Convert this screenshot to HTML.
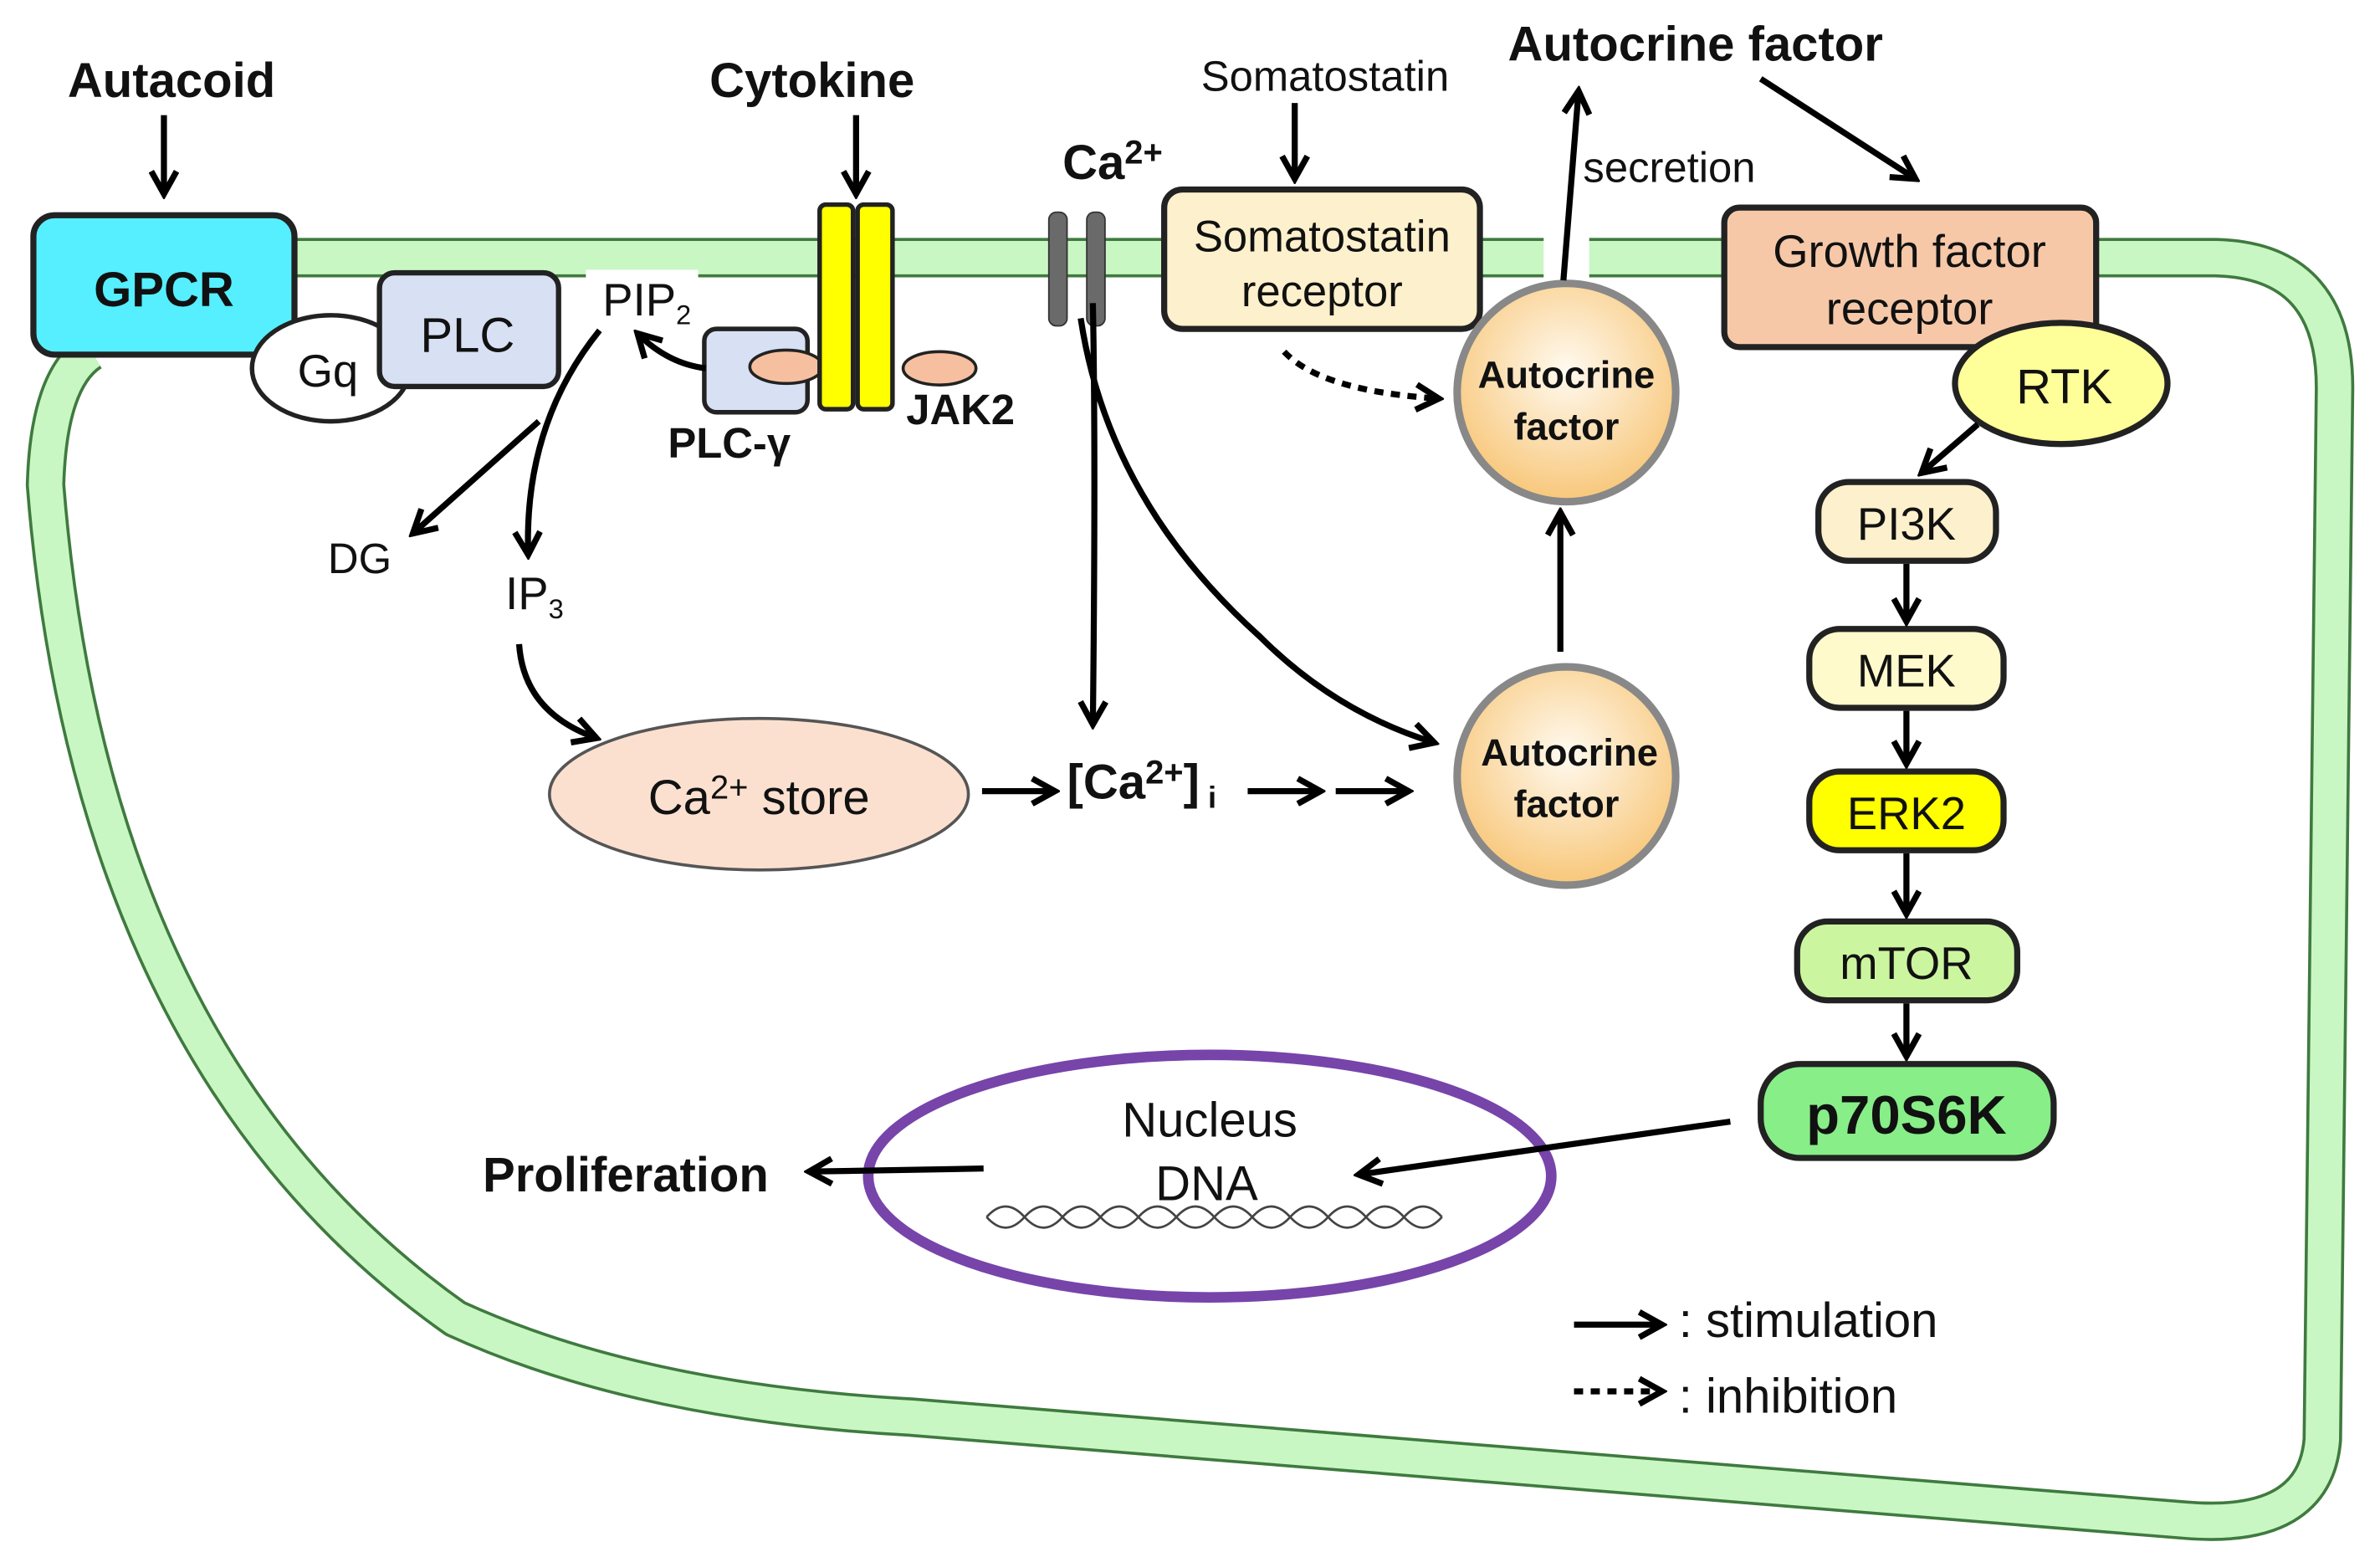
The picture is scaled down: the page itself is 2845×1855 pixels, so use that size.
<!DOCTYPE html>
<html><head><meta charset="utf-8"><style>
html,body{margin:0;padding:0;background:#fff;}
svg{display:block;}
text{font-family:"Liberation Sans",sans-serif;fill:#111;}
</style></head><body>
<svg width="2845" height="1855" viewBox="0 0 1568 1024" preserveAspectRatio="none" xmlns="http://www.w3.org/2000/svg">
<defs>
<marker id="a" viewBox="0 0 12 12" refX="10" refY="6" markerWidth="5" markerHeight="5" orient="auto" markerUnits="strokeWidth">
<path d="M1,1 L10,6 L1,11" fill="none" stroke="#000" stroke-width="2.4"/></marker>
<radialGradient id="g" cx="50%" cy="40%" r="60%"><stop offset="0" stop-color="#fffaf0"/><stop offset="1" stop-color="#f8c77a"/></radialGradient>
</defs>
<!-- membrane -->
<g fill="none" stroke-linejoin="round">
<path d="M60,232 Q32,250 30,320 Q60,700 300,870 Q420,925 600,935 L1440,1003 Q1525,1010 1530,950 L1538,260 Q1540,172 1460,170 L1380,170 M1140,170 L195,170" stroke="#3f7a3f" stroke-width="26"/>
<path d="M60,232 Q32,250 30,320 Q60,700 300,870 Q420,925 600,935 L1440,1003 Q1525,1010 1530,950 L1538,260 Q1540,172 1460,170 L1380,170 M1140,170 L195,170" stroke="#c9f7c3" stroke-width="22"/>
</g>
<rect x="1017" y="150" width="30" height="40" fill="#fff"/>
<!-- GPCR -->
<rect x="22" y="142" width="172" height="92" rx="14" fill="#55efff" stroke="#222" stroke-width="4"/>
<text x="108" y="202" font-size="32" font-weight="bold" text-anchor="middle">GPCR</text>
<ellipse cx="218" cy="243" rx="52" ry="35" fill="#fff" stroke="#222" stroke-width="3"/>
<text x="216" y="255" font-size="30" text-anchor="middle">Gq</text>
<rect x="250" y="180" width="118" height="75" rx="10" fill="#d8e0f4" stroke="#222" stroke-width="3.5"/>
<text x="308" y="232" font-size="32" text-anchor="middle">PLC</text>
<rect x="386" y="178" width="74" height="40" fill="#fff"/>
<text x="397" y="208" font-size="30">PIP<tspan font-size="18" dy="6">2</tspan></text>
<!-- PLC-gamma, cytokine receptor -->
<rect x="464" y="217" width="68" height="55" rx="8" fill="#d8e0f4" stroke="#222" stroke-width="3"/>
<ellipse cx="518" cy="242" rx="24" ry="11" fill="#f6c0a0" stroke="#222" stroke-width="2"/>
<rect x="540" y="135" width="22" height="135" rx="4" fill="#ffff00" stroke="#222" stroke-width="3"/>
<rect x="565" y="135" width="23" height="135" rx="4" fill="#ffff00" stroke="#222" stroke-width="3"/>
<ellipse cx="619" cy="243" rx="24" ry="11" fill="#f6c0a0" stroke="#222" stroke-width="2"/>
<text x="597" y="280" font-size="28" font-weight="bold">JAK2</text>
<text x="440" y="302" font-size="28" font-weight="bold">PLC-γ</text>
<!-- Ca channel -->
<rect x="691" y="140" width="12" height="75" rx="5" fill="#6a6a6a" stroke="#333" stroke-width="1"/>
<rect x="716" y="140" width="12" height="75" rx="5" fill="#6a6a6a" stroke="#333" stroke-width="1"/>
<text x="700" y="118" font-size="32" font-weight="bold">Ca<tspan font-size="22" dy="-10">2+</tspan></text>
<!-- top labels -->
<text x="113" y="64" font-size="32" font-weight="bold" text-anchor="middle">Autacoid</text>
<text x="535" y="64" font-size="32" font-weight="bold" text-anchor="middle">Cytokine</text>
<text x="873" y="60" font-size="28" text-anchor="middle">Somatostatin</text>
<text x="1117" y="40" font-size="32" font-weight="bold" text-anchor="middle">Autocrine factor</text>
<text x="1043" y="120" font-size="28">secretion</text>
<!-- Somatostatin receptor -->
<rect x="767" y="125" width="208" height="92" rx="12" fill="#fdf0cc" stroke="#222" stroke-width="4"/>
<text x="871" y="166" font-size="29" text-anchor="middle">Somatostatin</text>
<text x="871" y="202" font-size="29" text-anchor="middle">receptor</text>
<!-- autocrine circles -->
<circle cx="1032" cy="259" r="72" fill="url(#g)" stroke="#888" stroke-width="5"/>
<text x="1032" y="256" font-size="25" font-weight="bold" text-anchor="middle">Autocrine</text>
<text x="1032" y="290" font-size="25" font-weight="bold" text-anchor="middle">factor</text>
<circle cx="1032" cy="512" r="72" fill="url(#g)" stroke="#888" stroke-width="5"/>
<text x="1034" y="505" font-size="25" font-weight="bold" text-anchor="middle">Autocrine</text>
<text x="1032" y="539" font-size="25" font-weight="bold" text-anchor="middle">factor</text>
<!-- growth factor receptor -->
<rect x="1136" y="137" width="245" height="92" rx="10" fill="#f6c8a8" stroke="#222" stroke-width="4"/>
<text x="1258" y="176" font-size="30" text-anchor="middle">Growth factor</text>
<text x="1258" y="214" font-size="30" text-anchor="middle">receptor</text>
<ellipse cx="1358" cy="253" rx="70" ry="40" fill="#ffff99" stroke="#222" stroke-width="4"/>
<text x="1360" y="266" font-size="32" text-anchor="middle">RTK</text>
<!-- cascade -->
<rect x="1198" y="318" width="117" height="52" rx="20" fill="#fdf0cc" stroke="#222" stroke-width="4"/>
<text x="1256" y="356" font-size="30" text-anchor="middle">PI3K</text>
<rect x="1192" y="415" width="128" height="52" rx="20" fill="#fffacc" stroke="#222" stroke-width="4"/>
<text x="1256" y="453" font-size="30" text-anchor="middle">MEK</text>
<rect x="1192" y="509" width="128" height="52" rx="20" fill="#ffff00" stroke="#222" stroke-width="4"/>
<text x="1256" y="547" font-size="30" text-anchor="middle">ERK2</text>
<rect x="1184" y="608" width="145" height="52" rx="20" fill="#ccf5a0" stroke="#222" stroke-width="4"/>
<text x="1256" y="646" font-size="30" text-anchor="middle">mTOR</text>
<rect x="1160" y="702" width="193" height="62" rx="26" fill="#88ee88" stroke="#222" stroke-width="4"/>
<text x="1256" y="748" font-size="36" font-weight="bold" text-anchor="middle">p70S6K</text>
<!-- Ca store -->
<ellipse cx="500" cy="524" rx="138" ry="50" fill="#fbe0d0" stroke="#555" stroke-width="2"/>
<text x="500" y="537" font-size="32" text-anchor="middle">Ca<tspan font-size="22" dy="-10">2+</tspan><tspan dy="10"> store</tspan></text>
<text x="703" y="527" font-size="32" font-weight="bold">[Ca<tspan font-size="22" dy="-10">2+</tspan><tspan dy="10">]</tspan><tspan font-size="20" dy="6"> i</tspan></text>
<text x="216" y="378" font-size="28">DG</text>
<text x="333" y="402" font-size="30">IP<tspan font-size="18" dy="6">3</tspan></text>
<!-- nucleus -->
<ellipse cx="797" cy="776" rx="225" ry="80" fill="#fff" stroke="#7744aa" stroke-width="7"/>
<text x="797" y="750" font-size="32" text-anchor="middle">Nucleus</text>
<text x="795" y="792" font-size="32" text-anchor="middle">DNA</text>
<g fill="none" stroke="#444" stroke-width="1.5">
<path d="M650,803 q12.5,-14 25,0 t25,0 t25,0 t25,0 t25,0 t25,0 t25,0 t25,0 t25,0 t25,0 t25,0 t25,0"/>
<path d="M650,803 q12.5,14 25,0 t25,0 t25,0 t25,0 t25,0 t25,0 t25,0 t25,0 t25,0 t25,0 t25,0 t25,0"/>
</g>
<text x="318" y="786" font-size="32" font-weight="bold">Proliferation</text>
<!-- legend -->
<text x="1106" y="882" font-size="32">: stimulation</text>
<text x="1106" y="932" font-size="32">: inhibition</text>
<!-- arrows -->
<g fill="none" stroke="#000" stroke-width="4" marker-end="url(#a)">
<path d="M108,76 L108,128"/>
<path d="M564,76 L564,128"/>
<path d="M853,68 L853,118"/>
<path d="M1030,185 L1040,60"/>
<path d="M1160,52 L1262,118"/>
<path d="M1303,280 L1266,312"/>
<path d="M1256,372 L1256,410"/>
<path d="M1256,469 L1256,504"/>
<path d="M1256,563 L1256,603"/>
<path d="M1256,662 L1256,697"/>
<path d="M1140,740 L895,775"/>
<path d="M648,771 L533,773"/>
<path d="M1028,430 L1028,338"/>
<path d="M465,243 Q440,240 420,220"/>
<path d="M395,218 Q345,280 348,366"/>
<path d="M355,278 L272,352"/>
<path d="M342,425 Q345,470 393,487"/>
<path d="M647,522 L695,522"/>
<path d="M822,522 L870,522"/>
<path d="M880,522 L928,522"/>
<path d="M720,200 Q722,300 720,478"/>
<path d="M712,210 Q730,330 830,420 Q880,470 945,490"/>
<path d="M1037,874 L1095,874"/>
<path d="M846,232 Q870,258 948,263" stroke-dasharray="6,5"/>
<path d="M1037,918 L1095,918" stroke-dasharray="6,5"/>
</g>
</svg>
</body></html>
